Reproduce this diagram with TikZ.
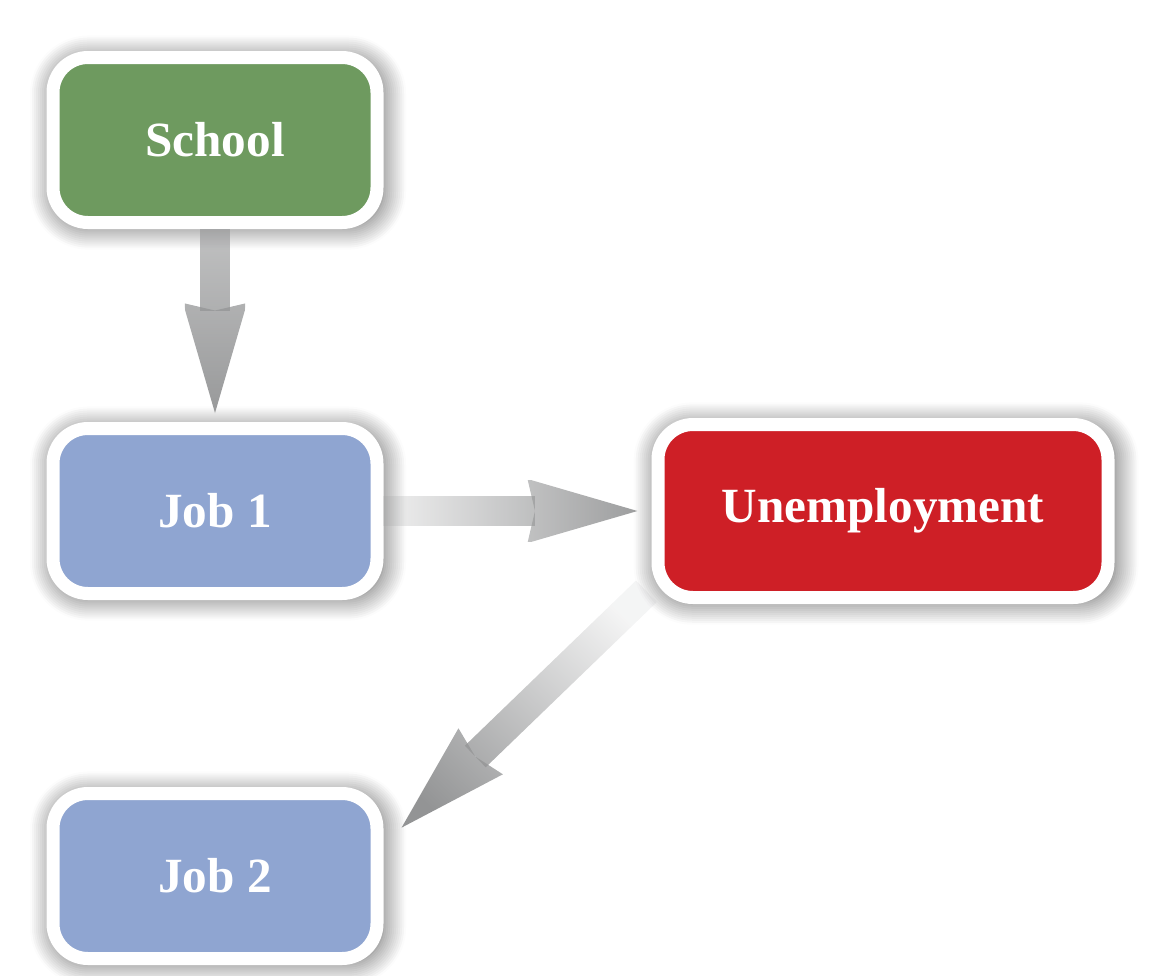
\documentclass[tikz,border=0pt]{standalone}
\usepackage{fontspec}
\setmainfont{Liberation Serif}
\usetikzlibrary{positioning, arrows.meta, calc, shadows.blur, fadings}
\definecolor{schoolgreen}{HTML}{6E9A5F}
\definecolor{jobblue}{HTML}{8FA5D1}
\definecolor{unempred}{HTML}{CE1F26}
\definecolor{arrowgray}{HTML}{939495}
\tikzfading[name=arrowfade, left color=transparent!90, middle color=transparent!20, right color=transparent!0]
\tikzfading[name=arrowfadesoft, left color=transparent!45, middle color=transparent!15, right color=transparent!0]
\tikzset{
    stage/.style={
        rectangle, rounded corners=0.7cm, minimum width=6.48cm, minimum height=3.3cm,
        align=center, draw=white, line width=0.26cm, text=white,
        font=\fontsize{28}{34}\selectfont\bfseries,
        blur shadow={shadow xshift=0.06cm, shadow yshift=-0.05cm, shadow scale=1.02,
            shadow blur radius=0.45cm, shadow blur steps=12, shadow opacity=65}
    },
    stage_green/.style={stage, fill=schoolgreen},
    stage_blue/.style={stage, fill=jobblue},
    stage_red/.style={stage, fill=unempred, minimum width=9.0cm, minimum height=3.46cm},
    bigarrow/.style={
        draw=arrowgray, line width=0.6cm,
        -{Stealth[length=2.2cm, width=1.28cm, inset=0.15cm, line width=0pt]},
        path fading=arrowfade
    }
}

\begin{document}
\begin{tikzpicture}
    \useasboundingbox (0, 0) rectangle (23.08, -19.5);
    \node[stage_green] (school) at (4.3, -2.8) {School};
    \node[stage_blue] (job1) at (4.3, -10.22) {Job 1};
    \node[stage_red] (unemp) at (17.66, -10.22) {Unemployment};
    \node[stage_blue] (job2) at (4.3, -17.52) {Job 2};
    \coordinate (unempout) at ($(unemp.south west)+(-0.1, 0.25)$);
    \coordinate (job2in) at ($(job2.east)+(0.36, 0.96)$);

    \draw[bigarrow, path fading=arrowfadesoft, fading angle=-90, shorten >=0.18cm] (school) -- (job1);
    \draw[bigarrow, shorten >=0.28cm] (job1) -- (unemp);
    \draw[bigarrow, fading angle=-135] (unempout) -- (job2in);
\end{tikzpicture}
\end{document}
